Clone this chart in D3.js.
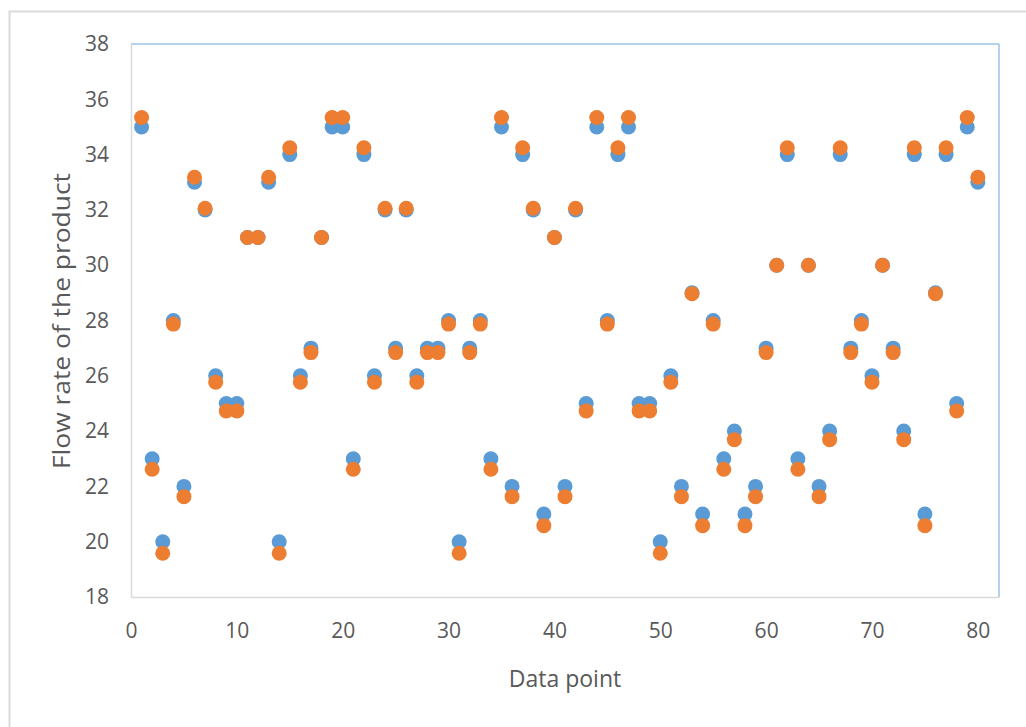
<!DOCTYPE html>
<html>
<head>
<meta charset="utf-8">
<script src="https://cdn.jsdelivr.net/npm/d3@7"></script>
<style>
  body { margin: 0; background: #fff; }
  svg { display: block; }
  .tick text { font-family: "Open Sans", sans-serif; fill: #595959; }
</style>
</head>
<body>
<div id="chart"></div>
<script>
// measured flow rate (blue) and model output (orange), one per data point
var pointIds = d3.range(1, 81);
var actual = [35, 23, 20, 28, 22, 33, 32, 26, 25, 25,
              31, 31, 33, 20, 34, 26, 27, 31, 35, 35,
              23, 34, 26, 32, 27, 32, 26, 27, 27, 28,
              20, 27, 28, 23, 35, 22, 34, 32, 21, 31,
              22, 32, 25, 35, 28, 34, 35, 25, 25, 20,
              26, 22, 29, 21, 28, 23, 24, 21, 22, 27,
              30, 34, 23, 30, 22, 24, 34, 27, 28, 26,
              30, 27, 24, 34, 21, 29, 34, 25, 35, 33];
var predicted = [35.34, 22.62, 19.58, 27.87, 21.63, 33.18, 32.06, 25.77, 24.73, 24.73,
                 31.0, 31.0, 33.18, 19.58, 34.25, 25.77, 26.84, 31.0, 35.34, 35.34,
                 22.62, 34.25, 25.77, 32.06, 26.84, 32.06, 25.77, 26.84, 26.84, 27.87,
                 19.58, 26.84, 27.87, 22.62, 35.34, 21.63, 34.25, 32.06, 20.58, 31.0,
                 21.63, 32.06, 24.73, 35.34, 27.87, 34.25, 35.34, 24.73, 24.73, 19.58,
                 25.77, 21.63, 28.97, 20.58, 27.87, 22.62, 23.69, 20.58, 21.63, 26.84,
                 30.0, 34.25, 22.62, 30.0, 21.63, 23.69, 34.25, 26.84, 27.87, 25.77,
                 30.0, 26.84, 23.69, 34.25, 20.58, 28.97, 34.25, 24.73, 35.34, 33.18];
var xTicks = [0, 10, 20, 30, 40, 50, 60, 70, 80];
var yTicks = [18, 20, 22, 24, 26, 28, 30, 32, 34, 36, 38];

var W = 1026, H = 727;
var plot = {left: 131, top: 44, right: 999, bottom: 597};

var svg = d3.select("#chart").append("svg")
    .attr("width", W)
    .attr("height", H);

// chart area frame
svg.append("rect")
    .attr("x", 9.5).attr("y", 11.5)
    .attr("width", W + 20).attr("height", H + 20)
    .attr("fill", "#fff")
    .attr("stroke", "#d9d9d9")
    .attr("stroke-width", 2);

var x = d3.scaleLinear().domain([0, 82]).range([plot.left, plot.right]);
var y = d3.scaleLinear().domain([18, 38]).range([plot.bottom, plot.top]);

// plot area border: top/right blue, left/bottom grey axis lines
svg.append("line")
    .attr("x1", plot.left).attr("x2", plot.right)
    .attr("y1", plot.top).attr("y2", plot.top)
    .attr("stroke", "#9dc3e6").attr("stroke-width", 1.5);
svg.append("line")
    .attr("x1", plot.right).attr("x2", plot.right)
    .attr("y1", plot.top).attr("y2", plot.bottom)
    .attr("stroke", "#9dc3e6").attr("stroke-width", 1.5);

var xAxis = svg.append("g")
    .attr("transform", "translate(0," + plot.bottom + ")")
    .call(d3.axisBottom(x).tickValues(xTicks).tickSize(0).tickPadding(26));
var yAxis = svg.append("g")
    .attr("transform", "translate(" + plot.left + ",0)")
    .call(d3.axisLeft(y).tickValues(yTicks).tickSize(0).tickPadding(22));

xAxis.select(".domain").attr("stroke", "#d9d9d9").attr("stroke-width", 1.5);
yAxis.select(".domain").attr("stroke", "#d9d9d9").attr("stroke-width", 1.5);
xAxis.selectAll("text").attr("font-size", "21px");
yAxis.selectAll("text").attr("font-size", "21px");

// axis titles
svg.append("text")
    .attr("x", 565).attr("y", 687)
    .attr("text-anchor", "middle")
    .attr("font-family", "Open Sans, sans-serif")
    .attr("font-size", "23px")
    .attr("fill", "#595959")
    .text("Data point");

svg.append("text")
    .attr("transform", "translate(70,321) rotate(-90)")
    .attr("text-anchor", "middle")
    .attr("font-family", "Open Sans, sans-serif")
    .attr("font-size", "23px")
    .attr("textLength", 296)
    .attr("lengthAdjust", "spacingAndGlyphs")
    .attr("fill", "#595959")
    .text("Flow rate of the product");

// points: blue underneath, orange on top
svg.append("g").selectAll("circle")
    .data(pointIds)
    .enter()
    .append("circle")
    .attr("cx", function(d) { return x(d); })
    .attr("cy", function(d, i) { return y(actual[i]); })
    .attr("r", 7.5)
    .attr("fill", "#5b9bd5");

svg.append("g").selectAll("circle")
    .data(pointIds)
    .enter()
    .append("circle")
    .attr("cx", function(d) { return x(d); })
    .attr("cy", function(d, i) { return y(predicted[i]); })
    .attr("r", 7.5)
    .attr("fill", "#ed7d31");
</script>
</body>
</html>
